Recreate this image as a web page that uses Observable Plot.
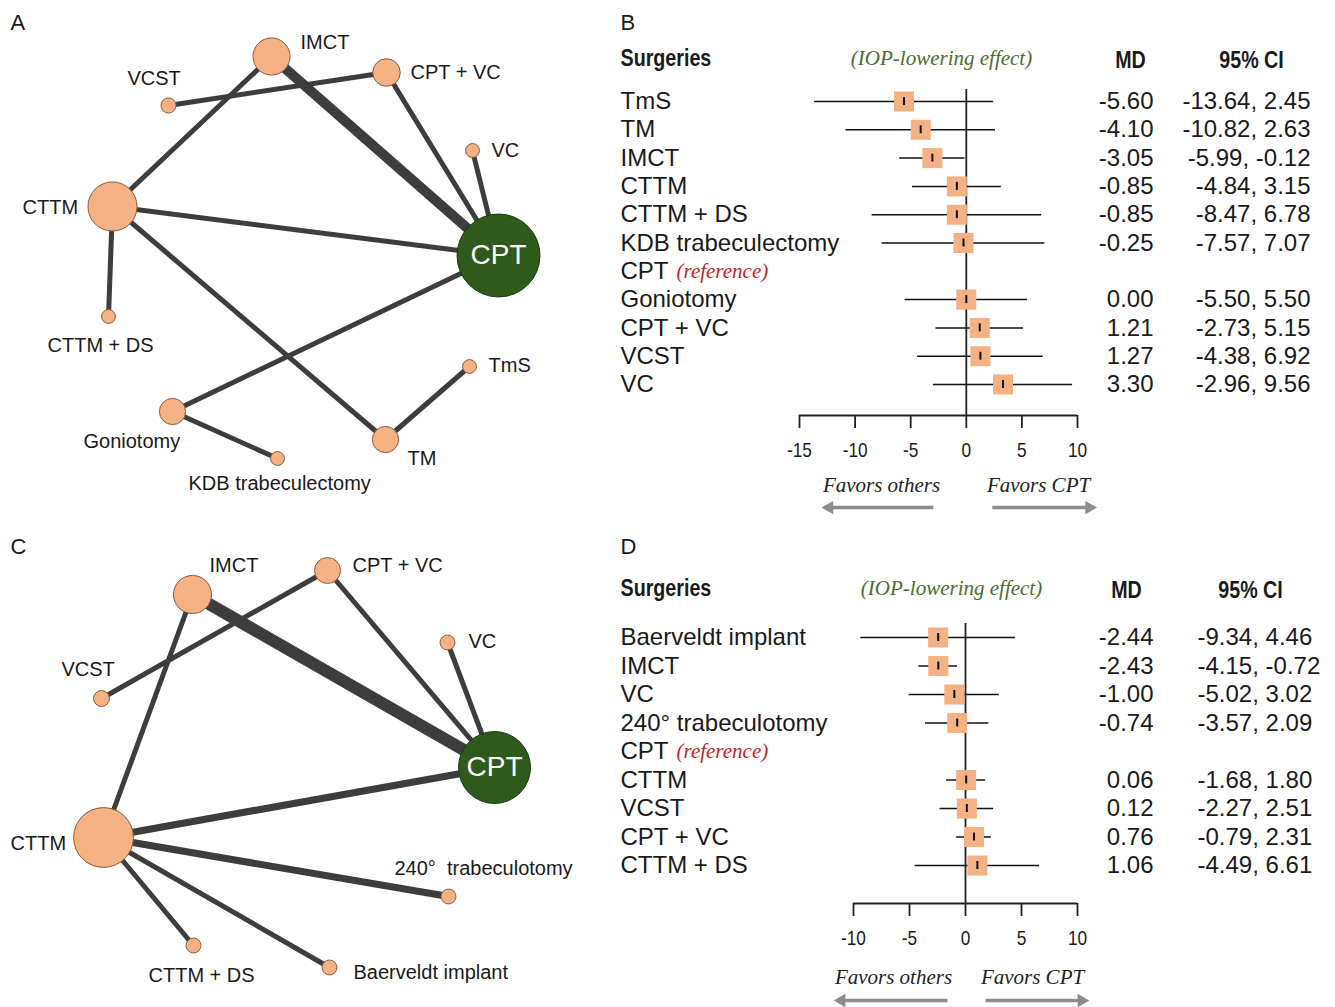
<!DOCTYPE html>
<html>
<head>
<meta charset="utf-8">
<script src="https://cdn.jsdelivr.net/npm/d3@7"></script>
<script src="https://cdn.jsdelivr.net/npm/@observablehq/plot@0.6"></script>
<style>
  body { margin: 0; background: #fff; }
  #fig { position: relative; width: 1335px; height: 1007px; overflow: hidden; background: #fff; }
  .panel { position: absolute; }
</style>
</head>
<body>
<div id="fig"></div>
<script>
// ---------------- DATA ----------------
// Panel A – network (layout positions, node weights, edge study counts)
const netANames  = ["IMCT", "CPT + VC", "VCST", "VC", "CTTM", "CPT", "CTTM + DS", "TmS", "Goniotomy", "KDB trabeculectomy", "TM"];
const netAX      = [271, 386, 168, 472, 112, 498, 108, 469, 172, 277, 385];
const netAY      = [56, 72, 105, 150, 206, 255, 316, 366, 411, 458, 439];
const netAWeight = [20, 11, 3.3, 2.8, 35, 100, 2.8, 2.8, 10, 2.8, 10];
const netALabelX = [300, 410, 127, 491, 22, null, 47, 488, 83, 188, 407];
const netALabelY = [42, 72, 78, 150, 207, null, 345, 365, 441, 483, 458];
const netAEdgeFrom = ["CTTM", "IMCT", "VCST", "CPT + VC", "VC", "CTTM", "CTTM", "CTTM", "Goniotomy", "Goniotomy", "TM"];
const netAEdgeTo   = ["IMCT", "CPT", "CPT + VC", "CPT", "CPT", "CPT", "CTTM + DS", "TM", "CPT", "KDB trabeculectomy", "TmS"];
const netAEdgeN    = [1, 4, 1, 1, 1, 1, 1, 1, 1, 1, 1];

// Panel B – forest plot
const forestBNames = ["TmS", "TM", "IMCT", "CTTM", "CTTM + DS", "KDB trabeculectomy", "CPT", "Goniotomy", "CPT + VC", "VCST", "VC"];
const forestBMD    = [-5.60, -4.10, -3.05, -0.85, -0.85, -0.25, null, 0.00, 1.21, 1.27, 3.30];
const forestBLo    = [-13.64, -10.82, -5.99, -4.84, -8.47, -7.57, null, -5.50, -2.73, -4.38, -2.96];
const forestBHi    = [2.45, 2.63, -0.12, 3.15, 6.78, 7.07, null, 5.50, 5.15, 6.92, 9.56];
const forestBTicks = [-15, -10, -5, 0, 5, 10];

// Panel C – network
const netCNames  = ["IMCT", "CPT + VC", "VC", "VCST", "CPT", "CTTM", "240°  trabeculotomy", "CTTM + DS", "Baerveldt implant"];
const netCX      = [192, 327, 447, 101, 494, 103, 448, 193, 329];
const netCY      = [64, 40, 112, 168, 237, 307, 366, 415, 437];
const netCWeight = [28, 13, 4.3, 4.9, 100, 69, 4.3, 4.3, 4.3];
const netCLabelX = [209, 352, 468, 61, null, 10, 394, 148, 353];
const netCLabelY = [35, 35, 111, 139, null, 313, 338, 445, 442];
const netCEdgeFrom = ["IMCT", "IMCT", "VCST", "CPT + VC", "VC", "CTTM", "CTTM", "CTTM", "CTTM"];
const netCEdgeTo   = ["CPT", "CTTM", "CPT + VC", "CPT", "CPT", "CPT", "240°  trabeculotomy", "CTTM + DS", "Baerveldt implant"];
const netCEdgeN    = [6, 1, 1, 1, 1, 2, 2, 1, 1];

// Panel D – forest plot
const forestDNames = ["Baerveldt implant", "IMCT", "VC", "240° trabeculotomy", "CPT", "CTTM", "VCST", "CPT + VC", "CTTM + DS"];
const forestDMD    = [-2.44, -2.43, -1.00, -0.74, null, 0.06, 0.12, 0.76, 1.06];
const forestDLo    = [-9.34, -4.15, -5.02, -3.57, null, -1.68, -2.27, -0.79, -4.49];
const forestDHi    = [4.46, -0.72, 3.02, 2.09, null, 1.80, 2.51, 2.31, 6.61];
const forestDTicks = [-10, -5, 0, 5, 10];

// ---------------- STYLE ----------------
const FONT   = "'Liberation Sans', Arial, Helvetica, sans-serif";
const NARROW = "'Liberation Sans Narrow', 'Liberation Sans', Arial, sans-serif";
const SERIF  = "'Liberation Serif', 'Times New Roman', serif";
const INK = "#1a1a1a";
const PEACH = "#f4b183";
const GREEN = "#2e5a1c";

const fig = document.getElementById("fig");
function place(node, left, top) {
  const d = document.createElement("div");
  d.className = "panel";
  d.style.left = left + "px";
  d.style.top = top + "px";
  d.appendChild(node);
  fig.appendChild(d);
  // emulate a condensed face (Arial Narrow) when no narrow font is installed
  node.querySelectorAll("g[font-family*='Narrow'] text").forEach(t => {
    const w = t.getComputedTextLength();
    if (w > 0) {
      t.setAttribute("textLength", (w * 0.82).toFixed(1));
      t.setAttribute("lengthAdjust", "spacingAndGlyphs");
    }
  });
}

function network(cfg) {
  const {names, xs, ys, weights, lx, ly, from, to, n, width, height, rMax, letter, letterY, cptFont} = cfg;
  const nodes = names.map((name, i) => ({name, x: xs[i], y: ys[i], w: weights[i], lx: lx[i], ly: ly[i]}));
  const byName = new Map(nodes.map(d => [d.name, d]));
  const edges = from.map((f, i) => ({a: byName.get(f), b: byName.get(to[i]), n: n[i]}));
  const others = nodes.filter(d => d.name !== "CPT");
  const ref = nodes.filter(d => d.name === "CPT");
  return Plot.plot({
    width, height, margin: 0,
    x: {domain: [0, width], range: [0, width], axis: null},
    y: {domain: [0, height], range: [0, height], axis: null},
    r: {type: "sqrt", domain: [0, 100], range: [0, rMax]},
    style: {fontFamily: FONT, fontSize: "20px", color: INK, background: "transparent", overflow: "visible"},
    marks: [
      Plot.link(edges, {x1: d => d.a.x, y1: d => d.a.y, x2: d => d.b.x, y2: d => d.b.y,
        stroke: "#3d3d3d", strokeWidth: d => 5 * Math.sqrt(d.n), strokeLinecap: "butt"}),
      Plot.dot(others, {x: "x", y: "y", r: "w", fill: PEACH, stroke: "#8a5a3c", strokeWidth: 1, fillOpacity: 1}),
      Plot.dot(ref, {x: "x", y: "y", r: "w", fill: GREEN, stroke: "#1c3a10", strokeWidth: 1, fillOpacity: 1}),
      Plot.text(others, {x: "lx", y: "ly", text: "name", textAnchor: "start", lineAnchor: "middle", fontSize: 20, fill: INK}),
      Plot.text(ref, {x: "x", y: "y", text: "name", fill: "white", fontSize: cptFont}),
      Plot.text([letter], {frameAnchor: "top-left", dx: 10, dy: letterY, textAnchor: "start", lineAnchor: "middle", fontSize: 22, fill: INK})
    ]
  });
}

function forest(cfg) {
  const {names, md, lo, hi, ticks, width, height, mL, mR, mT, mB, yDomain,
         mdRight, ciX, ciAnchor, heads, favors, arrows, letter} = cfg;
  const rows = names.map((name, i) => ({i, name, md: md[i], lo: lo[i], hi: hi[i]}));
  const est = rows.filter(d => d.md != null);
  const ref = rows.filter(d => d.md == null);
  // place a label at pixel (X, Y) of this plot, centred on that point unless overridden
  const at = (X, Y) => ({frameAnchor: "top-left", dx: X - mL, dy: Y - mT, textAnchor: "middle", lineAnchor: "middle"});
  const fmt = v => v.toFixed(2);
  return Plot.plot({
    width, height, marginLeft: mL, marginRight: mR, marginTop: mT, marginBottom: mB,
    x: {domain: [ticks[0], ticks[ticks.length - 1]], axis: null},
    y: {domain: yDomain, reverse: true, axis: null},
    style: {fontFamily: FONT, fontSize: "24px", color: INK, background: "transparent", overflow: "visible"},
    marks: [
      Plot.ruleX([0], {stroke: "#222", strokeWidth: 1.8}),
      Plot.ruleY([yDomain[1]], {x1: ticks[0], x2: ticks[ticks.length - 1], stroke: "#222", strokeWidth: 1.8}),
      Plot.axisX({ticks, tickSize: 13, tickPadding: 14, tickFormat: d => String(d), label: null,
        fontSize: 21, fontFamily: NARROW, stroke: "#222", strokeWidth: 1.8, fill: INK}),
      Plot.ruleY(est, {y: "i", x1: "lo", x2: "hi", stroke: "#111", strokeWidth: 1.5}),
      Plot.dot(est, {x: "md", y: "i", symbol: "square", r: 11.3, fill: PEACH, fillOpacity: 1}),
      Plot.ruleX(est, {x: "md", y1: d => d.i - 0.14, y2: d => d.i + 0.14, stroke: "#111", strokeWidth: 2}),
      Plot.text(rows, {y: "i", text: "name", frameAnchor: "left", dx: 20 - mL, textAnchor: "start", lineAnchor: "middle", fontSize: 24, fill: INK}),
      Plot.text(ref, {y: "i", text: () => "(reference)", frameAnchor: "left", dx: 76 - mL, textAnchor: "start", lineAnchor: "middle",
        fontFamily: SERIF, fontStyle: "italic", fontSize: 21, fill: "#c21f2b"}),
      Plot.text(est, {y: "i", text: d => fmt(d.md), frameAnchor: "left", dx: mdRight - mL, textAnchor: "end", lineAnchor: "middle", fontSize: 24, fill: INK}),
      Plot.text(est, {y: "i", text: d => `${fmt(d.lo)}, ${fmt(d.hi)}`, frameAnchor: "left", dx: ciX - mL, textAnchor: ciAnchor, lineAnchor: "middle", fontSize: 24, fill: INK}),
      // headers
      Plot.text([letter], {...at(20, heads.letterY), textAnchor: "start", fontSize: 22, fill: INK}),
      Plot.text(["Surgeries"], {...at(20, heads.y), textAnchor: "start", fontFamily: NARROW, fontWeight: "bold", fontSize: 24, fill: INK}),
      Plot.text(["(IOP-lowering effect)"], {...at(heads.iopX, heads.y), fontFamily: SERIF, fontStyle: "italic", fontSize: 21, fill: "#4a6e30"}),
      Plot.text(["MD"], {...at(heads.mdX, heads.y + 2), fontFamily: NARROW, fontWeight: "bold", fontSize: 24, fill: INK}),
      Plot.text(["95% CI"], {...at(heads.ciX, heads.y + 2), fontFamily: NARROW, fontWeight: "bold", fontSize: 24, fill: INK}),
      // favours
      Plot.text(["Favors others"], {...at(favors.leftX, favors.y), fontFamily: SERIF, fontStyle: "italic", fontSize: 21, fill: "#222"}),
      Plot.text(["Favors CPT"], {...at(favors.rightX, favors.y), fontFamily: SERIF, fontStyle: "italic", fontSize: 21, fill: "#222"}),
      Plot.link(arrows, {x1: "x1", x2: "x2", y1: "y", y2: "y", stroke: "#8c8c8c", strokeWidth: 3.5}),
      Plot.dot(arrows, {x: "x2", y: "y", symbol: "triangle", r: 5, fill: "#8c8c8c", rotate: d => d.x2 < d.x1 ? -90 : 90})
    ]
  });
}

// ---------------- PANELS ----------------
place(network({
  names: netANames, xs: netAX, ys: netAY, weights: netAWeight, lx: netALabelX, ly: netALabelY,
  from: netAEdgeFrom, to: netAEdgeTo, n: netAEdgeN, width: 600, height: 520, rMax: 41.5,
  letter: "A", letterY: 22, cptFont: 28
}), 0, 0);

place(forest({
  names: forestBNames, md: forestBMD, lo: forestBLo, hi: forestBHi, ticks: forestBTicks,
  width: 735, height: 520, mL: 199, mR: 258, mT: 89, mB: 105, yDomain: [-0.424, 11.095],
  mdRight: 553, ciX: 710, ciAnchor: "end",
  heads: {letterY: 22, y: 58, iopX: 341, mdX: 530, ciX: 651},
  favors: {y: 485, leftX: 281, rightX: 438},
  arrows: [{x1: -2.97, x2: -12.32, y: 14.35}, {x1: 2.34, x2: 11.06, y: 14.35}],
  letter: "B"
}), 600, 0);

place(network({
  names: netCNames, xs: netCX, ys: netCY, weights: netCWeight, lx: netCLabelX, ly: netCLabelY,
  from: netCEdgeFrom, to: netCEdgeTo, n: netCEdgeN, width: 600, height: 477, rMax: 36,
  letter: "C", letterY: 16, cptFont: 28
}), 0, 530);

place(forest({
  names: forestDNames, md: forestDMD, lo: forestDLo, hi: forestDHi, ticks: forestDTicks,
  width: 735, height: 477, mL: 253, mR: 258, mT: 93, mB: 104, yDomain: [-0.491, 9.333],
  mdRight: 553, ciX: 597, ciAnchor: "start",
  heads: {letterY: 16, y: 58, iopX: 351, mdX: 526, ciX: 650},
  favors: {y: 447, leftX: 293, rightX: 432},
  arrows: [{x1: -1.61, x2: -11.07, y: 12.74}, {x1: 1.79, x2: 10.36, y: 12.74}],
  letter: "D"
}), 600, 530);
</script>
</body>
</html>
